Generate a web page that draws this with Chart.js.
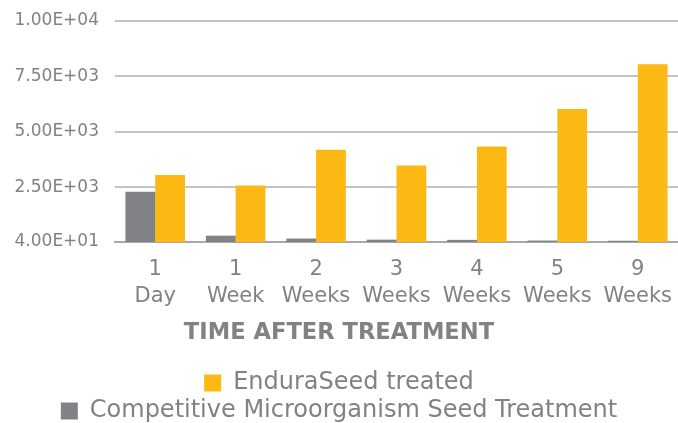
<!DOCTYPE html>
<html>
<head>
<meta charset="utf-8">
<script src="https://cdn.jsdelivr.net/npm/chart.js@4/dist/chart.umd.min.js"></script>
<style>
  html, body { margin: 0; padding: 0; background: #fff; }
  #wrap { width: 678px; height: 423px; }
</style>
</head>
<body>
<div id="wrap"><canvas id="chart"></canvas></div>
<script>
const categories = [['1', 'Day'], ['1', 'Week'], ['2', 'Weeks'], ['3', 'Weeks'], ['4', 'Weeks'], ['5', 'Weeks'], ['9', 'Weeks']];
const competitive = [2300, 320, 190, 140, 130, 100, 90];
const enduraSeed = [3060, 2580, 4190, 3480, 4340, 6030, 8055];
const yTicks = [40, 2500, 5000, 7500, 10000];

const grey = '#808285';
const gold = '#fdb913';
const textGrey = '#808285';
const font = 'DejaVu Sans';

// 4.00E+01 style labels
function sci(v){
    let s = Number(v).toExponential(2).toUpperCase();
    return s.replace(/E([+-])(\d)$/, 'E$10$2');
}

const ctx = document.getElementById('chart');
new Chart(ctx, {
    type: 'bar',
    data: {
        labels: categories,
        datasets: [
            {
                label: 'Competitive Microorganism Seed Treatment',
                data: competitive,
                backgroundColor: grey,
                borderWidth: 0
            },
            {
                label: 'EnduraSeed treated',
                data: enduraSeed,
                backgroundColor: gold,
                borderWidth: 0
            }
        ]
    },
    options: {
        responsive: true,
        maintainAspectRatio: false,
        animation: false,
        layout: {
            padding: { top: 21, right: 0, bottom: 0, left: 0 }
        },
        datasets: {
            bar: { categoryPercentage: 0.74, barPercentage: 1.0 }
        },
        scales: {
            x: {
                grid: { display: false },
                border: { color: '#a7a9ac', width: 2 },
                afterFit: function(scale){
                    scale.height = 68;
                    scale.paddingLeft = 0;
                    scale.paddingRight = 0;
                },
                ticks: {
                    color: textGrey,
                    padding: 7,
                    font: { family: font, size: 21, lineHeight: 1.25 }
                }
            },
            y: {
                min: 40,
                max: 10000,
                afterBuildTicks: function(scale){
                    scale.ticks = yTicks.map(v => ({ value: v }));
                },
                afterFit: function(scale){
                    scale.width = 115;
                    scale.paddingTop = 0;
                    scale.paddingBottom = 0;
                },
                border: { display: false },
                grid: {
                    color: '#c3c4c6',
                    lineWidth: 2,
                    drawTicks: false
                },
                ticks: {
                    color: textGrey,
                    padding: 16,
                    font: { family: font, size: 17 },
                    callback: function(val){
                        return sci(val);
                    }
                }
            }
        },
        plugins: {
            title: {
                display: true,
                position: 'bottom',
                weight: 500,
                text: 'TIME AFTER TREATMENT',
                color: textGrey,
                font: { family: font, size: 22.6, weight: 'bold' },
                padding: { top: 10, bottom: 20 }
            },
            legend: {
                position: 'bottom',
                reverse: true,
                maxHeight: 56,
                labels: {
                    color: textGrey,
                    boxWidth: 17,
                    boxHeight: 17,
                    padding: 4,
                    font: { family: font, size: 24 }
                }
            },
            tooltip: { enabled: false }
        }
    }
});
</script>
</body>
</html>
